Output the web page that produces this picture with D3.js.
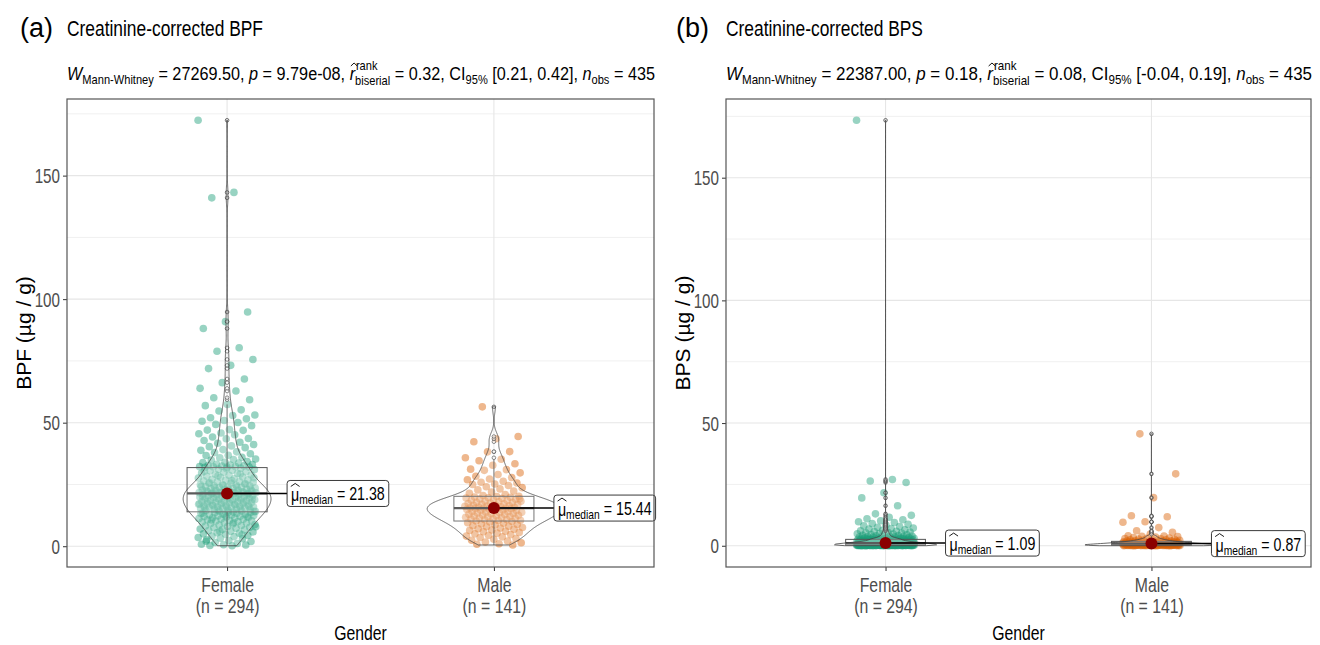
<!DOCTYPE html>
<html>
<head>
<meta charset="utf-8">
<script src="https://cdn.jsdelivr.net/npm/d3@7"></script>
<style>
    body { margin: 0; background: #fff; }
    svg text { font-family: "Liberation Sans", Arial, sans-serif; white-space: pre; }
</style>
</head>
<body>
<div id="chart"></div>
<script>

// ---- data ----
const groups = ["Female", "Male"];
const groupN = ["(n = 294)", "(n = 141)"];
const groupColors = ["#1B9E77", "#D95F02"];

const yTicks = [0, 50, 100, 150];
const yMinorTicks = [25, 75, 125, 175];

// creatinine-corrected BPF, female (n = 294)
const bpfFemale = [
    172.4, 143.2, 141.0, 94.8, 90.9, 88.1, 80.3, 78.9, 75.6, 73.2, 71.9, 67.7, 66.2, 63.9, 62.8, 60.1, 59.3, 57.4, 56.9, 55.2,
    54.7, 53.1, 52.9, 52.0, 51.6, 50.9, 50.6, 50.1,
    49.3, 48.8, 47.2, 47.0, 46.9, 45.8, 45.5, 45.1, 44.2, 43.6, 43.5, 42.8, 42.1, 41.7, 41.2, 40.6, 40.3, 39.9, 39.1, 38.8,
    38.2, 37.9, 37.4, 36.8, 36.7, 36.0, 35.8, 35.3, 35.1, 34.9, 34.3, 34.0, 33.9, 33.7, 33.2, 33.1, 32.9, 32.7, 32.5, 32.4,
    32.2, 32.2, 32.1, 32.0, 32.0,
    31.9, 31.6, 31.2, 31.0, 30.7, 30.5, 30.1, 29.9, 29.6, 29.4, 29.1, 28.8, 28.7, 28.3, 28.0, 27.9, 27.6, 27.3, 27.1, 26.9,
    26.8, 26.5, 26.2, 26.1, 25.9, 25.6, 25.5, 25.2, 25.0, 24.9, 24.7, 24.5, 24.4, 24.1, 24.0, 23.8, 23.7, 23.5, 23.3, 23.2,
    23.0, 22.9, 22.7, 22.6, 22.5, 22.3, 22.2, 22.1, 21.9, 21.8, 21.7, 21.6, 21.5, 21.4,
    31.4, 30.3, 29.2, 28.5, 27.7, 26.6, 25.7, 25.3, 24.6, 24.2, 23.9, 23.6, 23.1, 22.8, 22.4, 22.0, 21.8, 21.6, 21.5, 21.4,
    21.3, 21.2, 21.0, 20.9, 20.8, 20.6, 20.5, 20.4, 20.2, 20.1, 19.9, 19.8, 19.7, 19.5, 19.4, 19.2, 19.1, 19.0, 18.8, 18.7,
    18.5, 18.4, 18.3, 18.1, 18.0, 17.8, 17.7, 17.6, 17.4, 17.3, 17.1, 17.0, 16.9, 16.7, 16.6, 16.4, 16.3, 16.2, 16.0, 15.9,
    15.7, 15.6, 15.5, 15.3, 15.2, 15.0, 14.9, 14.8, 14.6, 14.5, 14.3, 14.2, 14.1, 13.9,
    21.1, 20.7, 20.3, 20.0, 19.6, 19.3, 18.9, 18.6, 18.2, 17.9, 17.5, 17.2, 16.8, 16.5, 16.1, 15.8, 15.4, 15.1, 14.7, 14.0,
    0.2, 0.3, 0.5, 0.6, 0.8, 1.1, 1.5, 1.9, 2.3, 2.6, 3.0, 3.2, 3.5, 3.9, 4.1, 4.4, 4.8, 5.0, 5.3, 5.5,
    5.8, 6.1, 6.3, 6.6, 6.8, 7.0, 7.3, 7.5, 7.7, 8.0, 8.2, 8.4, 8.6, 8.8, 9.0, 9.2, 9.4, 9.6, 9.8, 10.0,
    10.2, 10.3, 10.5, 10.7, 10.9, 11.0, 11.2, 11.4, 11.5, 11.7, 11.8, 12.0, 12.1, 12.3, 12.4, 12.6, 12.7, 12.9, 13.0, 13.2,
    13.3, 13.5, 13.6, 13.7, 2.0, 4.6, 6.0, 7.9, 9.5, 10.6, 11.9, 12.5, 13.4
];

// creatinine-corrected BPF, male (n = 141)
const bpfMale = [
    56.4, 44.4, 43.5, 42.3, 38.3, 38.2, 35.8, 35.2,
    34.6, 33.4, 32.8, 31.2, 31.0, 30.7, 29.7, 29.0, 28.3, 27.8, 27.2, 26.9, 26.3, 25.9, 25.6, 25.2, 25.0,
    24.6, 24.1, 23.7, 23.2, 22.8, 22.3, 21.9, 21.4, 20.9, 20.5,
    20.2, 20.1, 19.9, 19.8, 19.6, 19.5, 19.3, 19.1, 19.0, 18.8, 18.6, 18.5, 18.3, 18.2, 18.0, 17.8, 17.7, 17.5, 17.3, 17.2,
    17.0, 16.9, 16.7, 16.6, 16.4, 16.3, 16.2, 16.0, 15.9, 15.8, 15.7, 15.6, 15.5, 15.5, 19.2,
    15.44,
    15.3, 15.2, 15.0, 14.9, 14.7, 14.6, 14.4, 14.3, 14.1, 14.0, 13.8, 13.7, 13.5, 13.4, 13.2, 13.1, 12.9, 12.8, 12.6, 12.5,
    12.3, 12.2, 12.0, 11.9, 11.7, 11.6, 11.4, 11.3, 11.1, 11.0, 10.8, 10.7, 10.5, 10.4, 10.2,
    10.0, 9.8, 9.5, 9.3, 9.0, 8.8, 8.6, 8.3, 8.1, 7.9, 7.6, 7.4, 7.1, 6.9, 6.6, 6.4, 6.1, 5.9, 5.6, 5.3,
    5.0, 4.7, 4.4, 4.1, 3.8, 3.5, 3.1, 2.8, 2.4, 2.1, 1.7, 1.4, 1.0, 0.8, 0.5
];

// creatinine-corrected BPS, female (n = 294)
const bpsFemale = [
    173.4, 27.0, 26.4, 25.8, 21.6, 19.5, 16.3, 13.0, 12.4, 11.6, 11.0, 10.6, 10.2, 9.8, 9.5, 9.0, 8.7, 8.4, 8.1, 7.8,
    7.5, 7.2, 7.0, 6.8, 6.5, 6.3, 6.1,
    5.9, 5.8, 5.6, 5.5, 5.3, 5.2, 5.0, 4.9, 4.8, 4.6, 4.5, 4.4, 4.3, 4.2, 4.1, 4.0, 3.9, 3.8, 3.7, 3.6,
    3.55, 3.5, 3.4, 3.35, 3.3, 3.2, 3.15, 3.1, 3.05, 3.0, 2.95, 2.9, 2.88, 2.85, 2.82, 2.8, 2.78, 2.75, 2.72, 2.7,
    2.68, 2.66, 2.65, 2.64, 2.63, 2.62, 2.61,
    2.58, 2.51, 2.47, 2.44, 2.38, 2.36, 2.29, 2.27, 2.21, 2.18, 2.14, 2.09, 2.06, 2.03, 1.97, 1.96, 1.91, 1.88, 1.84, 1.81,
    1.79, 1.75, 1.73, 1.69, 1.67, 1.63, 1.61, 1.59, 1.55, 1.53, 1.51, 1.47, 1.45, 1.43, 1.41, 1.39, 1.37, 1.35, 1.33, 1.31,
    1.30, 1.28, 1.27, 1.25, 1.24, 1.23, 1.21, 1.20, 1.19, 1.18, 1.17, 1.16, 1.15, 1.14, 1.13, 1.12, 1.11, 1.10,
    2.41, 2.33, 2.12, 1.99, 1.86, 1.71, 1.57, 1.49, 1.42, 1.34, 1.26, 1.22, 1.16, 1.13, 1.10,
    1.09,
    1.08, 1.06, 1.04, 1.02, 0.99, 0.97, 0.95, 0.93, 0.91, 0.88, 0.86, 0.84, 0.82, 0.80, 0.78, 0.76, 0.74, 0.72, 0.70, 0.68,
    0.66, 0.64, 0.62, 0.60, 0.58, 0.57, 0.55, 0.53, 0.51, 0.50, 0.48, 0.47, 0.45, 0.44, 0.42, 0.41, 0.39, 0.38, 0.36, 0.35,
    0.34, 0.33, 0.32, 0.31, 0.30, 1.07, 1.03, 0.98, 0.94, 0.89, 0.85, 0.81, 0.77, 0.73, 0.69, 0.65, 0.61, 0.56, 0.52, 0.49,
    0.46, 0.43, 0.40, 0.37, 0.33, 1.05, 0.96, 0.87, 0.79, 0.71, 0.63, 0.54, 0.45,
    0.29, 0.28, 0.27, 0.26, 0.25, 0.24, 0.23, 0.22, 0.21, 0.20, 0.19, 0.18, 0.17, 0.16, 0.15, 0.14, 0.13, 0.12, 0.11, 0.10,
    0.09, 0.08, 0.07, 0.06, 0.05, 0.04, 0.03, 0.02, 0.29, 0.27, 0.26, 0.24, 0.22, 0.21, 0.19, 0.17, 0.16, 0.14, 0.12, 0.11,
    0.09, 0.08, 0.06, 0.05, 0.03, 0.28, 0.25, 0.23, 0.20, 0.18, 0.15, 0.13, 0.10, 0.07, 0.04, 0.02, 0.27, 0.24, 0.21, 0.18,
    0.15, 0.12, 0.09, 0.06, 0.03, 0.26, 0.22, 0.19, 0.16, 0.13, 0.10, 0.07, 0.04
];

// creatinine-corrected BPS, male (n = 141)
const bpsMale = [
    45.6, 29.3, 19.6, 12.2, 11.8, 9.8, 9.6, 7.4, 6.1, 5.5, 4.8, 4.1, 4.0,
    3.9, 3.7, 3.5, 3.3, 3.1, 3.0, 2.9, 2.8, 2.7, 2.6, 2.5, 2.45, 2.4, 2.3, 2.25, 2.2, 2.1, 2.05, 2.0, 1.95, 1.9, 1.85,
    1.79, 1.76, 1.72, 1.69, 1.65, 1.62, 1.58, 1.55, 1.51, 1.48, 1.44, 1.41, 1.38, 1.35, 1.32, 1.29, 1.26, 1.23, 1.20, 1.17,
    1.14, 1.11, 1.08, 1.05, 1.03, 1.01, 0.99, 0.97, 0.95, 0.93, 0.92, 0.91, 0.90, 0.89, 0.88,
    0.87,
    0.86, 0.84, 0.82, 0.79, 0.77, 0.75, 0.72, 0.70, 0.68, 0.66, 0.63, 0.61, 0.59, 0.57, 0.55, 0.53, 0.51, 0.49, 0.47, 0.45,
    0.43, 0.42, 0.40, 0.38, 0.37, 0.35, 0.34, 0.32, 0.31, 0.30, 0.29, 0.28, 0.27, 0.26, 0.25,
    0.24, 0.23, 0.22, 0.21, 0.20, 0.19, 0.18, 0.17, 0.16, 0.15, 0.14, 0.13, 0.12, 0.11, 0.10, 0.09, 0.08, 0.07, 0.06, 0.05,
    0.04, 0.03, 0.02, 0.01, 0.24, 0.22, 0.19, 0.17, 0.14, 0.12, 0.09, 0.07, 0.05, 0.03, 0.02
];

const medianLabelsA = ["21.38", "15.44"];
const medianLabelsB = ["1.09", "0.87"];

// W, p, r, CI, n
const statsA = ["27269.50", "9.79e-08", "0.32", "[0.21, 0.42]", "435"];
const statsB = ["22387.00", "0.18", "0.08", "[-0.04, 0.19]", "435"];


// ---- layout ----
const width = 1320, height = 645;
const plotTop = 99, plotBottom = 567;
const squeezeX = 0.79;   // the source figure's text is horizontally condensed

const svg = d3.select("#chart").append("svg")
    .attr("width", width)
    .attr("height", height);

const panels = [
    {tag: "(a)", tagX: 20, title: "Creatinine-corrected BPF", yLabel: "BPF (µg / g)", yLabelX: 24,
        left: 67, right: 654, series: [bpfFemale, bpfMale], medians: medianLabelsA, stats: statsA},
    {tag: "(b)", tagX: 676, title: "Creatinine-corrected BPS", yLabel: "BPS (µg / g)", yLabelX: 683,
        left: 726, right: 1311, series: [bpsFemale, bpsMale], medians: medianLabelsB, stats: statsB}
];

// condense a text (or group) horizontally around anchor x
function squeeze(sel, ax, sx) {
    sel.attr("transform", `translate(${ax},0) scale(${sx},1) translate(${-ax},0)`);
}

// gaussian kernel density with R's bw.nrd0, evaluated on the data range (trimmed violin)
function density(values) {
    let s = values.slice().sort(d3.ascending);
    let n = s.length;
    let iqr = d3.quantileSorted(s, 0.75) - d3.quantileSorted(s, 0.25);
    let bw = 0.9 * Math.min(d3.deviation(s), iqr / 1.34) * Math.pow(n, -0.2);
    let lo = s[0], hi = s[n - 1];
    let k = 1 / (n * bw * Math.sqrt(2 * Math.PI));
    return d3.range(512).map(i => {
        let v = lo + (hi - lo) * i / 511;
        return [v, k * d3.sum(s, xi => Math.exp(-0.5 * ((v - xi) / bw) ** 2))];
    });
}

function boxStats(values) {
    let s = values.slice().sort(d3.ascending);
    let q1 = d3.quantileSorted(s, 0.25), med = d3.quantileSorted(s, 0.5), q3 = d3.quantileSorted(s, 0.75);
    let iqr = q3 - q1;
    let lo = d3.min(s.filter(v => v >= q1 - 1.5 * iqr));
    let hi = d3.max(s.filter(v => v <= q3 + 1.5 * iqr));
    let out = s.filter(v => v < lo || v > hi);
    return {q1, med, q3, lo, hi, out};
}

// small hat drawn over a letter
function hat(g, x0, w, yTop) {
    g.append("path")
        .attr("d", `M${x0 + w * 0.05},${yTop + 3}L${x0 + w * 0.5},${yTop}L${x0 + w * 0.95},${yTop + 3}`)
        .attr("fill", "none")
        .attr("stroke", "#000")
        .attr("stroke-width", 1);
}

function putText(g, x, y, txt, size, italic) {
    let t = g.append("text")
        .attr("x", x).attr("y", y)
        .style("font-size", size + "px")
        .style("font-style", italic ? "italic" : "normal")
        .attr("fill", "#000")
        .text(txt);
    return t.node().getComputedTextLength();
}

function drawSubtitle(g, x, yb, s, targetW) {
    let t = g.append("g");
    let fs = 19, sm = 13;
    let cx = x;
    cx += putText(t, cx, yb, "W", fs, true);
    cx += putText(t, cx, yb + 4, "Mann-Whitney", sm, false);
    cx += putText(t, cx, yb, " = " + s[0] + ", ", fs, false);
    cx += putText(t, cx, yb, "p", fs, true);
    cx += putText(t, cx, yb, " = " + s[1] + ", ", fs, false);
    let rw = putText(t, cx, yb, "r", fs, true);
    hat(t, cx + 1, rw + 2, yb - 17);
    cx += rw;
    let w1 = putText(t, cx + 1, yb - 10, "rank", sm, false);
    let w2 = putText(t, cx, yb + 5, "biserial", sm, false);
    cx += Math.max(w1 + 1, w2);
    cx += putText(t, cx, yb, " = " + s[2] + ", CI", fs, false);
    cx += putText(t, cx, yb + 4, "95%", sm, false);
    cx += putText(t, cx, yb, " " + s[3] + ", ", fs, false);
    cx += putText(t, cx, yb, "n", fs, true);
    cx += putText(t, cx, yb + 4, "obs", sm, false);
    cx += putText(t, cx, yb, " = " + s[4], fs, false);
    squeeze(t, x, targetW / (cx - x));
}

function drawPanel(p) {
    let g = svg.append("g");

    let all = p.series.flat();
    let [lo, hi] = d3.extent(all);
    let pad = (hi - lo) * 0.05;

    let y = d3.scaleLinear()
        .domain([lo - pad, hi + pad])
        .range([plotBottom, plotTop]);

    let x = d3.scalePoint()
        .domain(groups)
        .range([p.left, p.right])
        .padding(0.6);
    let step = x.step();

    // grid
    g.selectAll(".minor").data(yMinorTicks.filter(t => t < hi + pad)).enter().append("line")
        .attr("x1", p.left).attr("x2", p.right)
        .attr("y1", d => y(d)).attr("y2", d => y(d))
        .attr("stroke", "#F0F0F0").attr("stroke-width", 1);
    g.selectAll(".major").data(yTicks).enter().append("line")
        .attr("x1", p.left).attr("x2", p.right)
        .attr("y1", d => y(d)).attr("y2", d => y(d))
        .attr("stroke", "#E6E6E6").attr("stroke-width", 1.1);
    g.selectAll(".vgrid").data(groups).enter().append("line")
        .attr("x1", d => x(d)).attr("x2", d => x(d))
        .attr("y1", plotTop).attr("y2", plotBottom)
        .attr("stroke", "#E6E6E6").attr("stroke-width", 1.1);

    // jittered points
    p.series.forEach((vals, gi) => {
        let cx = x(groups[gi]);
        g.append("g").selectAll("circle").data(vals).enter().append("circle")
            .attr("cx", (d, i) => cx + (((i * 0.6180339887 + gi * 0.3) % 1) - 0.5) * 58)
            .attr("cy", d => y(d))
            .attr("r", 3.8)
            .attr("fill", groupColors[gi])
            .attr("fill-opacity", 0.45);
    });

    // boxplots
    let half = step * 0.15;
    p.series.forEach((vals, gi) => {
        let cx = x(groups[gi]);
        let b = boxStats(vals);
        let bg = g.append("g");
        bg.append("line").attr("x1", cx).attr("x2", cx).attr("y1", y(b.q3)).attr("y2", y(b.hi))
            .attr("stroke", "#333").attr("stroke-width", 0.8);
        bg.append("line").attr("x1", cx).attr("x2", cx).attr("y1", y(b.q1)).attr("y2", y(b.lo))
            .attr("stroke", "#333").attr("stroke-width", 0.8);
        bg.append("rect")
            .attr("x", cx - half).attr("width", half * 2)
            .attr("y", y(b.q3)).attr("height", Math.max(0.5, y(b.q1) - y(b.q3)))
            .attr("fill", "#fff").attr("fill-opacity", 0.2)
            .attr("stroke", "#555").attr("stroke-width", 1);
        bg.append("line").attr("x1", cx - half).attr("x2", cx + half)
            .attr("y1", y(b.med)).attr("y2", y(b.med))
            .attr("stroke", "#333").attr("stroke-width", 2.2);
        bg.selectAll(".out").data(b.out).enter().append("circle")
            .attr("cx", cx).attr("cy", d => y(d)).attr("r", 1.8)
            .attr("fill", "#fff").attr("fill-opacity", 0.6)
            .attr("stroke", "#333").attr("stroke-width", 0.7);
    });

    // violins, scaled to equal area across groups
    let dens = p.series.map(density);
    let maxD = d3.max(dens, d => d3.max(d, e => e[1]));
    dens.forEach((d, gi) => {
        let cx = x(groups[gi]);
        let area = d3.area()
            .x0(e => cx - e[1] / maxD * step * 0.25)
            .x1(e => cx + e[1] / maxD * step * 0.25)
            .y(e => y(e[0]));
        g.append("path")
            .datum(d)
            .attr("d", area)
            .attr("fill", "#fff").attr("fill-opacity", 0.2)
            .attr("stroke", "#444").attr("stroke-width", 0.8);
    });

    // median points and labels
    p.series.forEach((vals, gi) => {
        let cx = x(groups[gi]);
        let med = d3.median(vals);
        let cy = y(med);
        let lx = cx + 60;
        g.append("line").attr("x1", cx).attr("x2", lx).attr("y1", cy).attr("y2", cy)
            .attr("stroke", "#000").attr("stroke-width", 1.5);
        g.append("circle").attr("cx", cx).attr("cy", cy).attr("r", 6)
            .attr("fill", "#8B0000");

        let lg = g.append("g");
        let rect = lg.append("rect")
            .attr("x", lx).attr("y", cy - 13).attr("height", 26).attr("rx", 3)
            .attr("fill", "#fff").attr("stroke", "#222").attr("stroke-width", 0.9);
        let tg = lg.append("g");
        let tx0 = lx + 4, tx = tx0;
        let mw = putText(tg, tx, cy + 8, "μ", 18, false);
        hat(tg, tx - 1, mw + 2, cy - 10);
        tx += mw;
        tx += putText(tg, tx, cy + 11, "median", 13, false);
        tx += putText(tg, tx, cy + 7, " = " + p.medians[gi], 18, false);
        squeeze(tg, tx0, squeezeX);
        rect.attr("width", (tx - tx0) * squeezeX + 8);
    });

    // y axis
    g.append("g")
        .attr("transform", `translate(${p.left},0)`)
        .call(d3.axisLeft(y).tickValues(yTicks).tickSize(4).tickPadding(3))
        .call(a => a.attr("font-family", null).attr("font-size", null))
        .call(a => a.select(".domain").remove())
        .call(a => a.selectAll("line").attr("stroke", "#333"))
        .call(a => a.selectAll("text").attr("fill", "#4D4D4D").style("font-size", "20px").attr("dy", "0.36em")
            .each(function () { squeeze(d3.select(this), -7, 0.76); }));

    // x axis with two-line category labels
    let xa = g.append("g")
        .attr("transform", `translate(0,${plotBottom})`)
        .call(d3.axisBottom(x).tickSize(4).tickFormat(""))
        .call(a => a.attr("font-family", null).attr("font-size", null))
        .call(a => a.select(".domain").remove())
        .call(a => a.selectAll("line").attr("stroke", "#333"));
    xa.selectAll(".tick").each(function (d, i) {
        let t = d3.select(this).append("text")
            .attr("fill", "#4D4D4D")
            .attr("text-anchor", "middle")
            .style("font-size", "20px");
        t.append("tspan").attr("x", 0).attr("y", 25).text(d);
        t.append("tspan").attr("x", 0).attr("y", 46).text(groupN[i]);
        squeeze(t, 0, squeezeX);
    });

    // panel border
    g.append("rect")
        .attr("x", p.left).attr("y", plotTop)
        .attr("width", p.right - p.left).attr("height", plotBottom - plotTop)
        .attr("fill", "none").attr("stroke", "#555").attr("stroke-width", 1.2);

    // axis titles
    let gx = (p.left + p.right) / 2;
    g.append("text")
        .attr("x", gx).attr("y", 640)
        .attr("text-anchor", "middle")
        .style("font-size", "20px")
        .attr("fill", "#000")
        .text("Gender")
        .call(t => squeeze(t, gx, squeezeX));
    g.append("text")
        .attr("transform", `translate(${p.yLabelX},${(plotTop + plotBottom) / 2}) rotate(-90)`)
        .attr("text-anchor", "middle")
        .attr("dy", "0.35em")
        .style("font-size", "21px")
        .attr("fill", "#000")
        .text(p.yLabel);

    // tag, title, subtitle
    g.append("text")
        .attr("x", p.tagX).attr("y", 37)
        .style("font-size", "27px")
        .attr("fill", "#000")
        .text(p.tag);
    g.append("text")
        .attr("x", p.left).attr("y", 36)
        .style("font-size", "22px")
        .attr("fill", "#000")
        .text(p.title)
        .call(t => squeeze(t, p.left, squeezeX));
    drawSubtitle(g, p.left, 80, p.stats, p.right - p.left + 1);
}

panels.forEach(drawPanel);

</script>
</body>
</html>
